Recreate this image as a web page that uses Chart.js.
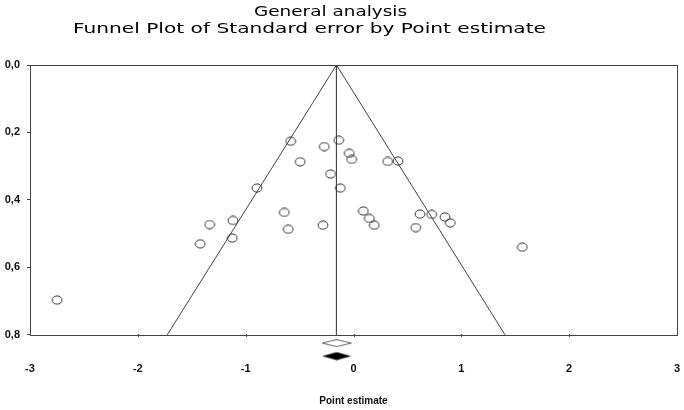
<!DOCTYPE html>
<html>
<head>
<meta charset="utf-8">
<script src="https://cdn.jsdelivr.net/npm/chart.js@4/dist/chart.umd.min.js"></script>
<style>
  html, body { margin: 0; padding: 0; background: #fff; }
  #wrap { width: 684px; height: 410px; position: relative; }
</style>
</head>
<body>
<div id="wrap"><canvas id="funnel"></canvas></div>
<script>
// study estimates and their standard errors
const estimates = [-0.583, -0.271, -0.137, -0.039, -0.017, -0.494, -0.213, -0.122, -0.895, -0.642,
                   -1.118, -1.334, -0.283, -0.605, -1.124, -1.421, 0.091, 0.147, 0.193, 0.317,
                   0.413, 0.617, 0.725, 0.577, 0.849, 0.898, 1.566, -2.748];
const stdErrors = [0.226, 0.242, 0.223, 0.262, 0.280, 0.287, 0.323, 0.365, 0.365, 0.437,
                   0.461, 0.473, 0.475, 0.487, 0.513, 0.530, 0.433, 0.455, 0.475, 0.286,
                   0.285, 0.442, 0.443, 0.482, 0.451, 0.468, 0.540, 0.697];

// funnel limits and summary estimate
const funnelX = [-1.727, -0.158, 1.405];
const funnelY = [0.8, 0, 0.8];
const summaryX = [-0.158, -0.158];
const summaryY = [0, 0.8];
const diamondOpen = { x: -0.156, y: 0.8245 };
const diamondFilled = { x: -0.156, y: 0.863 };

const xTicks = [-3, -2, -1, 0, 1, 2, 3];
const yTicks = [0, 0.2, 0.4, 0.6, 0.8];
const titles = ['General analysis', 'Funnel Plot of Standard error by Point estimate'];

function ellipseMark() {
    const c = document.createElement('canvas');
    c.width = 12; c.height = 10;
    const g = c.getContext('2d');
    g.strokeStyle = '#333';
    g.lineWidth = 1;
    g.beginPath();
    g.ellipse(6, 5, 4.9, 4.1, 0, 0, Math.PI * 2);
    g.stroke();
    return c;
}

function diamondMark(w, h, fill, stroke) {
    const c = document.createElement('canvas');
    c.width = w; c.height = h;
    const g = c.getContext('2d');
    g.beginPath();
    g.moveTo(0.5, h / 2);
    g.lineTo(w / 2, 0.5);
    g.lineTo(w - 0.5, h / 2);
    g.lineTo(w / 2, h - 0.5);
    g.closePath();
    g.fillStyle = fill;
    g.fill();
    if (stroke) {
        g.strokeStyle = stroke;
        g.lineWidth = 1;
        g.stroke();
    }
    return c;
}

// box around plot + small x tick marks, at the 0..0.8 range
const framePlugin = {
    id: 'frame',
    afterDatasetsDraw(chart) {
        const { ctx, scales: { x, y } } = chart;
        const l = x.getPixelForValue(xTicks[0]);
        const r = x.getPixelForValue(xTicks[xTicks.length - 1]);
        const t = y.getPixelForValue(yTicks[0]);
        const b = y.getPixelForValue(yTicks[yTicks.length - 1]);
        ctx.save();
        ctx.strokeStyle = '#444';
        ctx.lineWidth = 1;
        ctx.strokeRect(Math.round(l) + 0.5, Math.round(t) + 0.5, Math.round(r - l), Math.round(b - t));
        ctx.beginPath();
        xTicks.slice(1, -1).forEach(v => {
            const px = Math.round(x.getPixelForValue(v)) + 0.5;
            ctx.moveTo(px, Math.round(b) - 1);
            ctx.lineTo(px, Math.round(b) + 2);
        });
        ctx.stroke();
        ctx.restore();
    }
};

// two title lines, slightly wide like the original export
const titlePlugin = {
    id: 'titleLines',
    afterDraw(chart) {
        const ctx = chart.ctx;
        const spots = [[330.5, 16, 153], [309.5, 33, 473]];
        ctx.save();
        ctx.font = '14.5px "DejaVu Sans", Verdana, sans-serif';
        ctx.fillStyle = '#000';
        ctx.textBaseline = 'alphabetic';
        titles.forEach((txt, i) => {
            const [cx, base, w] = spots[i];
            const k = w / ctx.measureText(txt).width;
            ctx.save();
            ctx.translate(cx, base);
            ctx.scale(k, 1);
            ctx.textAlign = 'center';
            ctx.fillText(txt, 0, 0);
            ctx.restore();
        });
        ctx.restore();
    }
};

const tickFont = { family: '"Liberation Sans", Arial, sans-serif', size: 11, weight: 'bold' };

new Chart(document.getElementById('funnel'), {
    type: 'scatter',
    data: {
        datasets: [
            {
                label: 'Studies',
                data: estimates.map((v, i) => ({ x: v, y: stdErrors[i] })),
                pointStyle: ellipseMark(),
                pointRadius: 5
            },
            {
                label: 'Funnel',
                type: 'line',
                data: funnelX.map((v, i) => ({ x: v, y: funnelY[i] })),
                borderColor: '#444',
                borderWidth: 1,
                pointRadius: 0,
                fill: false
            },
            {
                label: 'Summary',
                type: 'line',
                data: summaryX.map((v, i) => ({ x: v, y: summaryY[i] })),
                borderColor: '#444',
                borderWidth: 1,
                pointRadius: 0,
                fill: false
            },
            {
                label: 'Observed',
                data: [diamondOpen],
                pointStyle: diamondMark(30, 8, '#fff', '#666'),
                pointRadius: 5,
                clip: false
            },
            {
                label: 'Imputed',
                data: [diamondFilled],
                pointStyle: diamondMark(30, 9, '#000', null),
                pointRadius: 5,
                clip: false
            }
        ]
    },
    options: {
        responsive: true,
        maintainAspectRatio: false,
        animation: false,
        events: [],
        layout: {
            padding: { top: 65, left: 0, right: 7, bottom: 0 }
        },
        plugins: {
            legend: { display: false },
            tooltip: { enabled: false }
        },
        scales: {
            x: {
                type: 'linear',
                min: -3,
                max: 3,
                afterBuildTicks: axis => { axis.ticks = xTicks.map(v => ({ value: v })); },
                grid: { display: false, drawTicks: false },
                border: { display: false },
                ticks: {
                    font: tickFont,
                    color: '#111',
                    padding: 1,
                    maxRotation: 0,
                    callback: v => String(v)
                },
                title: {
                    display: true,
                    text: 'Point estimate',
                    color: '#111',
                    font: { family: '"Liberation Sans", Arial, sans-serif', size: 10, weight: 'bold' },
                    padding: { top: 18, bottom: 3 }
                }
            },
            y: {
                type: 'linear',
                reverse: true,
                min: 0,
                max: 0.88,
                afterBuildTicks: axis => { axis.ticks = yTicks.map(v => ({ value: v })); },
                afterFit: axis => { axis.width = 30; },
                grid: { drawOnChartArea: false, drawTicks: true, tickLength: 3, color: '#444' },
                border: { display: false },
                ticks: {
                    font: tickFont,
                    color: '#111',
                    padding: 7,
                    callback: v => v.toFixed(1).replace('.', ',')
                }
            }
        }
    },
    plugins: [framePlugin, titlePlugin]
});
</script>
</body>
</html>
